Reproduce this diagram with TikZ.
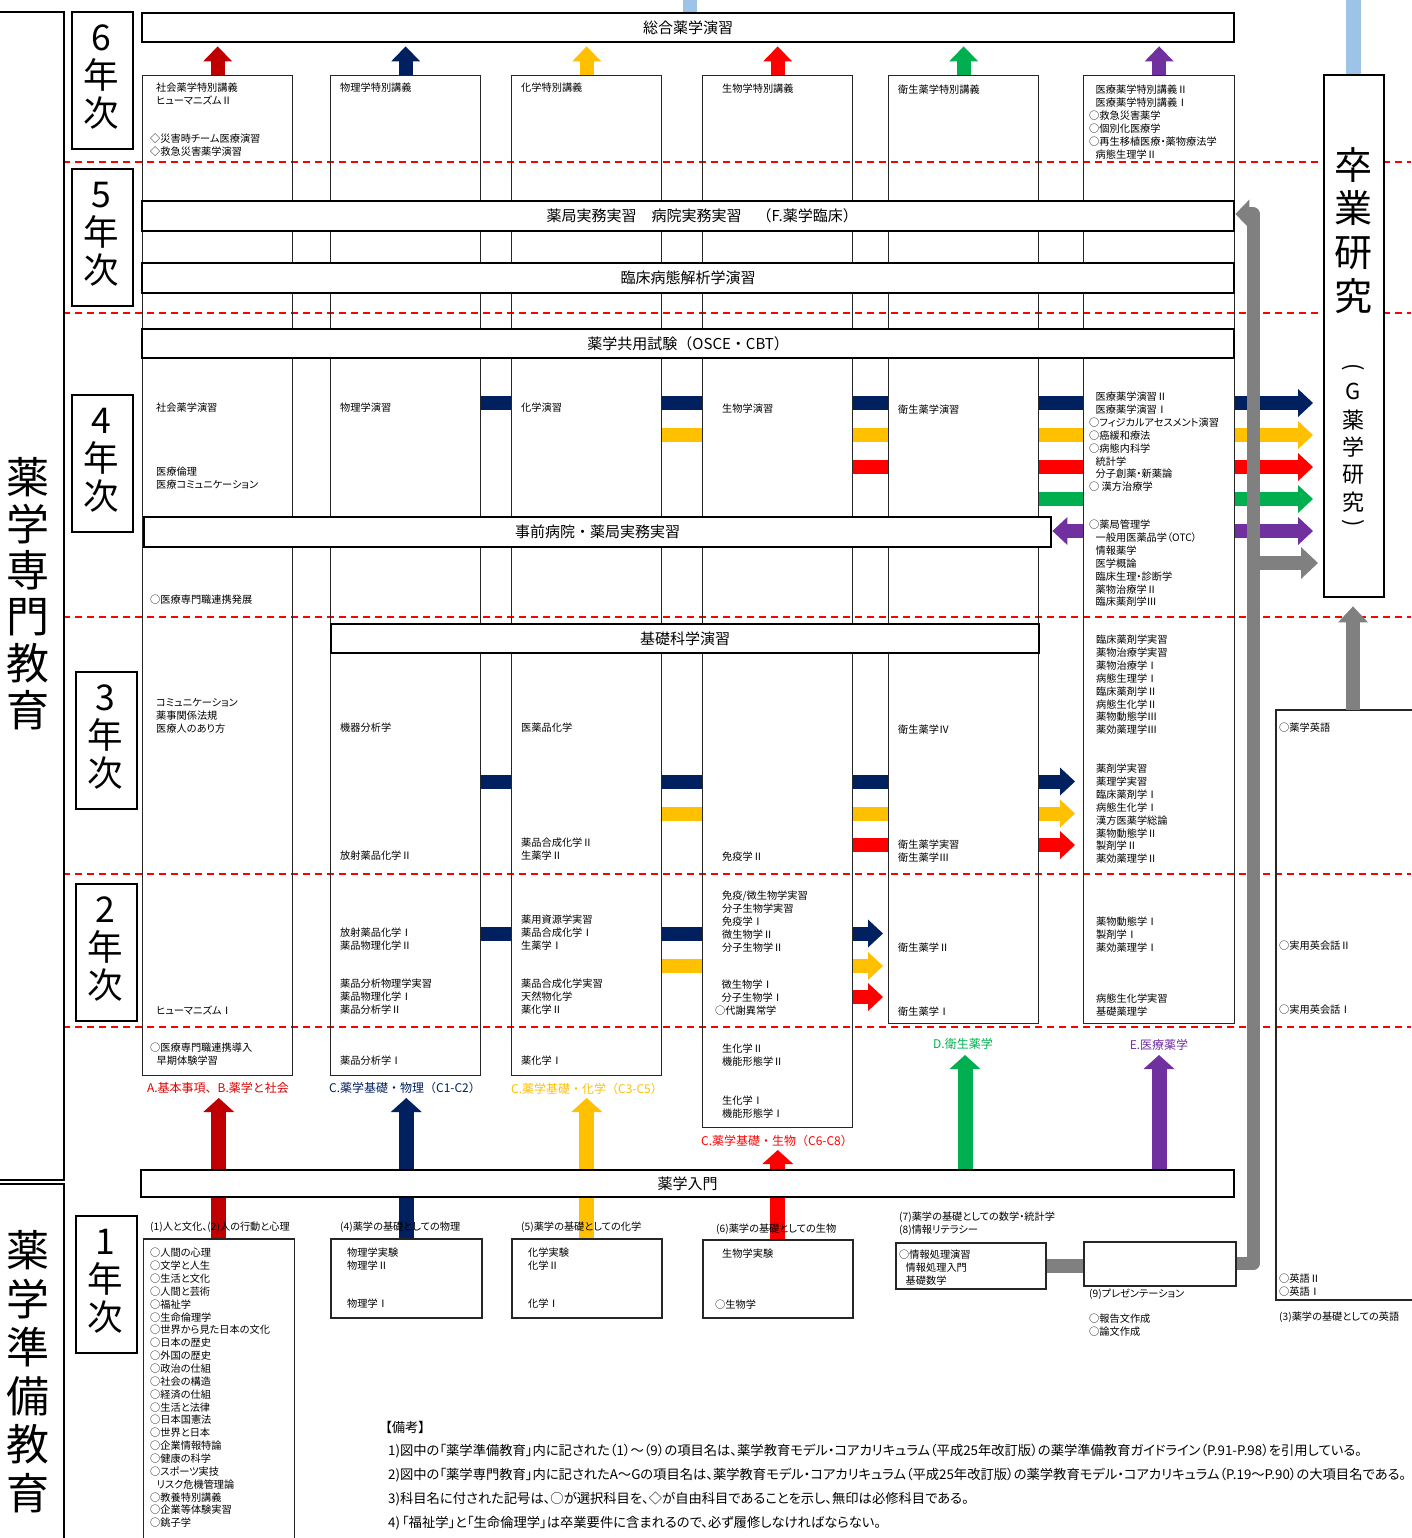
\documentclass[tikz,border=0pt]{standalone}
\usepackage{fontspec}
\usepackage{graphicx}
\setmainfont{Noto Sans CJK JP}
\newfontfamily\pfont{Noto Sans CJK JP}[RawFeature=+palt]
\usetikzlibrary{arrows.meta}
\definecolor{cDR}{HTML}{C00000}
\definecolor{cNV}{HTML}{002060}
\definecolor{cYL}{HTML}{FFC000}
\definecolor{cRD}{HTML}{FF0000}
\definecolor{cRT}{HTML}{E00000}
\definecolor{cGN}{HTML}{00B050}
\definecolor{cPP}{HTML}{7030A0}
\definecolor{cGY}{HTML}{808080}
\definecolor{cLB}{HTML}{9DC3E6}
\newcommand\ind{\hspace*{6.5pt}}
\newcommand\tlines[4]{\foreach \myl [count=\k from 0] in {#4}{\node[tx] (#1-\k) at (#2,{#3+\k*12.85}) {\myl};}}
\tikzset{
  colbox/.style={draw=black!85, line width=1.3pt, anchor=north west, inner sep=0pt},
  smallbox/.style={draw=black!85, line width=1.5pt, anchor=north west, inner sep=0pt},
  barbox/.style={draw=black, line width=2.4pt, fill=white, anchor=north west, inner sep=0pt, font=\fontsize{15}{18}\selectfont},
  yearbox/.style={draw=black, line width=2pt, fill=white, anchor=north west, inner sep=0pt},
  yearch/.style={inner sep=0pt, font=\fontsize{35.5}{36}\selectfont},
  bigch/.style={inner sep=0pt, font=\fontsize{43}{43}\selectfont},
  tx/.style={anchor=west, inner sep=0pt, font=\pfont\fontsize{10.2}{12}\selectfont},
  lab/.style={inner sep=0pt, font=\fontsize{12}{14}\selectfont},
  note/.style={anchor=west, inner sep=0pt, font=\pfont\fontsize{13.3}{15}\selectfont},
  sepline/.style={draw=red, line width=1.1pt, dash pattern=on 7pt off 5pt},
  cbar/.style={line width=14pt},
  harrow/.style={line width=14pt, -{Triangle[width=28pt,length=15pt,line width=0pt]}},
  varrow/.style={line width=15pt, -{Triangle[width=31pt,length=14pt,line width=0pt]}},
  uarrow/.style={line width=14pt, -{Triangle[width=29pt,length=15pt,line width=0pt]}},
  garrow/.style={draw=cGY, line width=13pt, -{Triangle[width=29pt,length=14pt,line width=0pt]}},
}
\begin{document}
\begin{tikzpicture}[x=1pt,y=-1pt]
\useasboundingbox (0,0) rectangle (1411,1538);
\fill[white] (0,0) rectangle (1411,1538);

% light blue links at the top
\coordinate (lbA) at (690,0);
\coordinate (lbB) at (1353,0);
\draw[cLB, line width=14pt] (lbA) -- (lbA |- 0,12);
\draw[cLB, line width=15pt] (lbB) -- (lbB |- 0,74);

% dashed year separators
\foreach \yy in {162,313,617,874,1027} \draw[sepline] (63,\yy) -- (1411,\yy);

% subject columns
\node[colbox, minimum width=150pt, minimum height=1000pt] (c1) at (142,75) {};
\node[colbox, minimum width=150pt, minimum height=1000pt] (c2) at (330,75) {};
\node[colbox, minimum width=150pt, minimum height=1000pt] (c3) at (511,75) {};
\node[colbox, minimum width=150pt, minimum height=1052pt] (c4) at (702,75) {};
\node[colbox, minimum width=150pt, minimum height=948pt] (c5) at (888,75) {};
\node[colbox, minimum width=151pt, minimum height=948pt] (c6) at (1083,75) {};

% left big boxes
\node[yearbox, minimum width=67pt, minimum height=1168pt] (sen) at (-4,11) {};
\node[yearbox, minimum width=67pt, minimum height=360pt] (jun) at (-4,1183) {};
\foreach \c [count=\k from 0] in {薬,学,専,門,教,育} \node[bigch] (sa\k) at (28,{477+\k*46.6}) {\c};
\foreach \c [count=\k from 0] in {薬,学,準,備,教,育} \node[bigch] (sb\k) at (28,{1250+\k*48.6}) {\c};

% year boxes
\foreach \d/\yt/\xc [count=\k] in {6/11/101,5/168/101,4/394/101.5,3/671/105,2/883/105,1/1215/105}{
  \node[yearbox, minimum width=61pt, minimum height=137pt] (yb\k) at (\xc-30.5,\yt) {};
  \node[yearch] (yd\k) at (\xc,\yt+27) {\d};
  \node[yearch] (yn\k) at (\xc,\yt+64) {年};
  \node[yearch] (yj\k) at (\xc,\yt+102) {次};
}

% first year boxes
\node[smallbox, minimum width=151pt, minimum height=310pt] (b1) at (142.5,1238) {};
\node[smallbox, minimum width=151pt, minimum height=79pt] (b4) at (330,1238) {};
\node[smallbox, minimum width=150pt, minimum height=79pt] (b5) at (511,1238) {};
\node[smallbox, minimum width=150pt, minimum height=78pt] (b6) at (702,1239) {};
\node[smallbox, minimum width=150pt, minimum height=46pt] (b78) at (895,1242) {};
\node[smallbox, minimum width=152pt, minimum height=44pt] (b9) at (1083,1241) {};
% english box
\coordinate (engtop) at (1353,710);
\draw[draw=black!85, line width=1.3pt] (1415,710) -- (1276,710) -- (1276,1300) -- (1415,1300);

% big arrows from the first year up
\draw[varrow, cDR] (b1.north) -- ++(0,-140);
\draw[varrow, cNV] (b4.north) -- ++(0,-140);
\draw[varrow, cYL] (b5.north) -- ++(0,-140);
\draw[varrow, cRD] (b6.north) -- ++(0,-89);

% horizontal bars
\node[barbox, minimum width=1092pt, minimum height=29pt] (sogo) at (141,12) {総合薬学演習};
\node[barbox, minimum width=1092pt, minimum height=30pt] (jitsumu) at (141,200) {\hspace*{28pt}薬局実務実習　病院実務実習　（F.薬学臨床）};
\node[barbox, minimum width=1092pt, minimum height=30pt] (rinsho) at (141,262) {臨床病態解析学演習};
\node[barbox, minimum width=1092pt, minimum height=29pt] (kyoyo) at (141,328) {薬学共用試験（OSCE・CBT）};
\node[barbox, minimum width=907pt, minimum height=30pt] (jizen) at (143,516) {事前病院・薬局実務実習};
\node[barbox, minimum width=708pt, minimum height=29pt] (kiso) at (330,623) {基礎科学演習};
\node[barbox, minimum width=1093pt, minimum height=27pt] (nyumon) at (140,1169) {薬学入門};

\draw[varrow, cGN] (nyumon.north -| 965,0) -- ++(0,-114);
\draw[varrow, cPP] (nyumon.north -| 1159,0) -- ++(0,-114);

% sixth year small arrows
\draw[uarrow, cDR, shorten >=3pt] (c1.north) -- (c1.north |- sogo.south);
\draw[uarrow, cNV, shorten >=3pt] (c2.north) -- (c2.north |- sogo.south);
\draw[uarrow, cYL, shorten >=3pt] (c3.north) -- (c3.north |- sogo.south);
\draw[uarrow, cRD, shorten >=3pt] (c4.north) -- (c4.north |- sogo.south);
\draw[uarrow, cGN, shorten >=3pt] (c5.north) -- (c5.north |- sogo.south);
\draw[uarrow, cPP, shorten >=3pt] (c6.north) -- (c6.north |- sogo.south);

% graduation research
\node[yearbox, line width=2.4pt, minimum width=60pt, minimum height=522pt] (sotsu) at (1323,74) {};
\foreach \c/\yy [count=\k] in {卒/165,業/208,研/253,究/296} \node[inner sep=0pt, font=\fontsize{38}{38}\selectfont] (so\k) at (1353,\yy) {\c};
\foreach \c/\yy [count=\k] in {G/391,薬/420,学/447,研/475,究/502} \node[inner sep=0pt, font=\fontsize{22}{22}\selectfont] (sg\k) at (1353,\yy) {\c};
\node[inner sep=0pt, rotate=-90, font=\fontsize{22}{22}\selectfont] (sgL) at (1353,367) {(};
\node[inner sep=0pt, rotate=-90, font=\fontsize{22}{22}\selectfont] (sgR) at (1353,523) {)};

% 4th year links
\draw[cbar, cNV] (c2.east |- 0,403) -- (c3.west |- 0,403);
\draw[cbar, cNV] (c3.east |- 0,403) -- (c4.west |- 0,403);
\draw[cbar, cNV] (c4.east |- 0,403) -- (c5.west |- 0,403);
\draw[cbar, cNV] (c5.east |- 0,403) -- (c6.west |- 0,403);
\draw[harrow, cNV, shorten >=10pt] (c6.east |- 0,403) -- (sotsu.west |- 0,403);
\draw[cbar, cYL] (c3.east |- 0,435) -- (c4.west |- 0,435);
\draw[cbar, cYL] (c4.east |- 0,435) -- (c5.west |- 0,435);
\draw[cbar, cYL] (c5.east |- 0,435) -- (c6.west |- 0,435);
\draw[harrow, cYL, shorten >=10pt] (c6.east |- 0,435) -- (sotsu.west |- 0,435);
\draw[cbar, cRD] (c4.east |- 0,467) -- (c5.west |- 0,467);
\draw[cbar, cRD] (c5.east |- 0,467) -- (c6.west |- 0,467);
\draw[harrow, cRD, shorten >=10pt] (c6.east |- 0,467) -- (sotsu.west |- 0,467);
\draw[cbar, cGN] (c5.east |- 0,499) -- (c6.west |- 0,499);
\draw[harrow, cGN, shorten >=10pt] (c6.east |- 0,499) -- (sotsu.west |- 0,499);
\draw[harrow, cPP] (c6.west |- 0,531) -- (jizen.east |- 0,531);
\draw[harrow, cPP, shorten >=10pt] (c6.east |- 0,531) -- (sotsu.west |- 0,531);

% 3rd year links
\draw[cbar, cNV] (c2.east |- 0,781.5) -- (c3.west |- 0,781.5);
\draw[cbar, cNV] (c3.east |- 0,781.5) -- (c4.west |- 0,781.5);
\draw[cbar, cNV] (c4.east |- 0,781.5) -- (c5.west |- 0,781.5);
\draw[harrow, cNV, shorten >=8pt] (c5.east |- 0,781.5) -- (c6.west |- 0,781.5);
\draw[cbar, cYL] (c3.east |- 0,813.5) -- (c4.west |- 0,813.5);
\draw[cbar, cYL] (c4.east |- 0,813.5) -- (c5.west |- 0,813.5);
\draw[harrow, cYL, shorten >=8pt] (c5.east |- 0,813.5) -- (c6.west |- 0,813.5);
\draw[cbar, cRD] (c4.east |- 0,845) -- (c5.west |- 0,845);
\draw[harrow, cRD, shorten >=8pt] (c5.east |- 0,845) -- (c6.west |- 0,845);

% 2nd year links
\draw[cbar, cNV] (c2.east |- 0,933.5) -- (c3.west |- 0,933.5);
\draw[cbar, cNV] (c3.east |- 0,933.5) -- (c4.west |- 0,933.5);
\draw[harrow, cNV, shorten >=5pt] (c4.east |- 0,933.5) -- (c5.west |- 0,933.5);
\draw[cbar, cYL] (c3.east |- 0,966) -- (c4.west |- 0,966);
\draw[harrow, cYL, shorten >=5pt] (c4.east |- 0,966) -- (c5.west |- 0,966);
\draw[harrow, cRD, shorten >=5pt] (c4.east |- 0,997) -- (c5.west |- 0,997);

% gray links
\coordinate (gcor) at (1253,214);
\draw[cGY, line width=14pt] (b78.east) -- (b78.east -| b9.west);
\draw[garrow, line join=round] (b9.east) -| (gcor) -- (jitsumu.east |- gcor);
\draw[cGY, line width=14pt, -{Triangle[width=32pt,length=17pt,line width=0pt]}, shorten >=5pt] (gcor |- 0,563) -- (sotsu.west |- 0,563);
\draw[cGY, line width=14pt, -{Triangle[width=30pt,length=16pt,line width=0pt]}, shorten >=8pt] (engtop) -- (engtop |- sotsu.south);

% ---------- texts ----------
% 6th year
\tlines{t1a}{156}{88}{社会薬学特別講義,ヒューマニズムⅡ}
\tlines{t1b}{150}{139}{◇災害時チーム医療演習,◇救急災害薬学演習}
\tlines{t2a}{340}{88}{物理学特別講義}
\tlines{t3a}{521}{88}{化学特別講義}
\tlines{t4a}{722}{89}{生物学特別講義}
\tlines{t5a}{898}{90}{衛生薬学特別講義}
\tlines{t6a}{1089}{90}{\ind 医療薬学特別講義Ⅱ,\ind 医療薬学特別講義Ⅰ,○救急災害薬学,○個別化医療学,○再生移植医療・薬物療法学,\ind 病態生理学Ⅱ}
% 4th year
\tlines{t1c}{156}{408}{社会薬学演習}
\tlines{t1d}{156}{472}{医療倫理,医療コミュニケーション}
\tlines{t1e}{150}{600}{○医療専門職連携発展}
\tlines{t2b}{340}{408}{物理学演習}
\tlines{t3b}{521}{408}{化学演習}
\tlines{t4b}{722}{409}{生物学演習}
\tlines{t5b}{898}{410}{衛生薬学演習}
\tlines{t6b}{1089}{397}{\ind 医療薬学演習Ⅱ,\ind 医療薬学演習Ⅰ,○フィジカルアセスメント演習,○癌緩和療法,○病態内科学,\ind 統計学,\ind 分子創薬・新薬論,○ 漢方治療学}
\tlines{t6c}{1089}{525}{○薬局管理学,\ind 一般用医薬品学（OTC）,\ind 情報薬学,\ind 医学概論,\ind 臨床生理・診断学,\ind 薬物治療学Ⅱ,\ind 臨床薬剤学Ⅲ}
% 3rd year
\tlines{t1f}{156}{703}{コミュニケーション,薬事関係法規,医療人のあり方}
\tlines{t2c}{340}{728}{機器分析学}
\tlines{t2d}{340}{856}{放射薬品化学Ⅱ}
\tlines{t3c}{521}{728}{医薬品化学}
\tlines{t3d}{521}{843}{薬品合成化学Ⅱ,生薬学Ⅱ}
\tlines{t4c}{722}{857}{免疫学Ⅱ}
\tlines{t5c}{898}{730}{衛生薬学Ⅳ}
\tlines{t5d}{898}{845}{衛生薬学実習,衛生薬学Ⅲ}
\tlines{t6d}{1096}{640}{臨床薬剤学実習,薬物治療学実習,薬物治療学Ⅰ,病態生理学Ⅰ,臨床薬剤学Ⅱ,病態生化学Ⅱ,薬物動態学Ⅲ,薬効薬理学Ⅲ}
\tlines{t6e}{1096}{769}{薬剤学実習,薬理学実習,臨床薬剤学Ⅰ,病態生化学Ⅰ,漢方医薬学総論,薬物動態学Ⅱ,製剤学Ⅱ,薬効薬理学Ⅱ}
% 2nd year
\tlines{t1g}{156}{1010}{ヒューマニズムⅠ}
\tlines{t1h}{150}{1048}{○医療専門職連携導入,\ind 早期体験学習}
\tlines{t2e}{340}{933}{放射薬品化学Ⅰ,薬品物理化学Ⅱ}
\tlines{t2f}{340}{984}{薬品分析物理学実習,薬品物理化学Ⅰ,薬品分析学Ⅱ}
\tlines{t2g}{340}{1061}{薬品分析学Ⅰ}
\tlines{t3e}{521}{920}{薬用資源学実習,薬品合成化学Ⅰ,生薬学Ⅰ}
\tlines{t3f}{521}{984}{薬品合成化学実習,天然物化学,薬化学Ⅱ}
\tlines{t3g}{521}{1061}{薬化学Ⅰ}
\tlines{t4d}{722}{896}{免疫/微生物学実習,分子生物学実習,免疫学Ⅰ,微生物学Ⅱ,分子生物学Ⅱ}
\tlines{t4e}{715}{985}{\ind 微生物学Ⅰ,\ind 分子生物学Ⅰ,○代謝異常学}
\tlines{t4f}{722}{1049}{生化学Ⅱ,機能形態学Ⅱ}
\tlines{t4g}{722}{1101}{生化学Ⅰ,機能形態学Ⅰ}
\tlines{t5e}{898}{948}{衛生薬学Ⅱ}
\tlines{t5f}{898}{1012}{衛生薬学Ⅰ}
\tlines{t6f}{1096}{922}{薬物動態学Ⅰ,製剤学Ⅰ,薬効薬理学Ⅰ}
\tlines{t6g}{1096}{999}{病態生化学実習,基礎薬理学}
% 1st year
\tlines{h1}{150}{1227}{(1)人と文化、(2)人の行動と心理}
\tlines{t1i}{150}{1253}{○人間の心理,○文学と人生,○生活と文化,○人間と芸術,○福祉学,○生命倫理学,○世界から見た日本の文化,○日本の歴史,○外国の歴史,○政治の仕組,○社会の構造,○経済の仕組,○生活と法律,○日本国憲法,○世界と日本,○企業情報特論,○健康の科学,○スポーツ実技,\ind リスク危機管理論,○教養特別講義,○企業等体験実習,○銚子学}
\tlines{h4}{340}{1227}{(4)薬学の基礎としての物理}
\tlines{t2h}{347}{1253}{物理学実験,物理学Ⅱ}
\tlines{t2i}{347}{1304}{物理学Ⅰ}
\tlines{h5}{521}{1227}{(5)薬学の基礎としての化学}
\tlines{t3h}{528}{1253}{化学実験,化学Ⅱ}
\tlines{t3i}{528}{1304}{化学Ⅰ}
\tlines{h6}{716}{1229}{(6)薬学の基礎としての生物}
\tlines{t4h}{722}{1254}{生物学実験}
\tlines{t4i}{715}{1305}{○生物学}
\tlines{h7}{899}{1217}{(7)薬学の基礎としての数学・統計学,(8)情報リテラシー}
\tlines{t5g}{899}{1255}{○情報処理演習,\ind 情報処理入門,\ind 基礎数学}
\tlines{h9}{1089}{1294}{(9)プレゼンテーション}
\tlines{t6h}{1089}{1319}{○報告文作成,○論文作成}
\tlines{te1}{1279}{728}{○薬学英語}
\tlines{te2}{1279}{946}{○実用英会話Ⅱ}
\tlines{te3}{1279}{1010}{○実用英会話Ⅰ}
\tlines{te4}{1279}{1279}{○英語Ⅱ,○英語Ⅰ}
\tlines{h3}{1279}{1317}{(3)薬学の基礎としての英語}

% area labels
\node[lab, text=cRT] (labA) at (218,1088) {A.基本事項、B.薬学と社会};
\node[lab, text=cNV] (labC1) at (405,1088) {C.薬学基礎・物理（C1-C2）};
\node[lab, text=cYL] (labC2) at (587,1089) {C.薬学基礎・化学（C3-C5）};
\node[lab, text=cRD] (labC3) at (777,1141) {C.薬学基礎・生物（C6-C8）};
\node[lab, text=cGN] (labD) at (963,1044) {D.衛生薬学};
\node[lab, text=cPP] (labE) at (1159,1045) {E.医療薬学};

% notes
\node[note] (nt0) at (385,1427) {【備考】};
\node[note] (nt1) at (388,1451) {1)図中の「薬学準備教育」内に記された（1）～（9）の項目名は、薬学教育モデル・コアカリキュラム（平成25年改訂版）の薬学準備教育ガイドライン（P.91-P.98）を引用している。};
\node[note] (nt2) at (388,1475) {2)図中の「薬学専門教育」内に記されたA～Gの項目名は、薬学教育モデル・コアカリキュラム（平成25年改訂版）の薬学教育モデル・コアカリキュラム（P.19～P.90）の大項目名である。};
\node[note] (nt3) at (388,1499) {3)科目名に付された記号は、○が選択科目を、◇が自由科目であることを示し、無印は必修科目である。};
\node[note] (nt4) at (388,1523) {4)\hspace{2pt}「福祉学」と「生命倫理学」は卒業要件に含まれるので、必ず履修しなければならない。};
\end{tikzpicture}
\end{document}
